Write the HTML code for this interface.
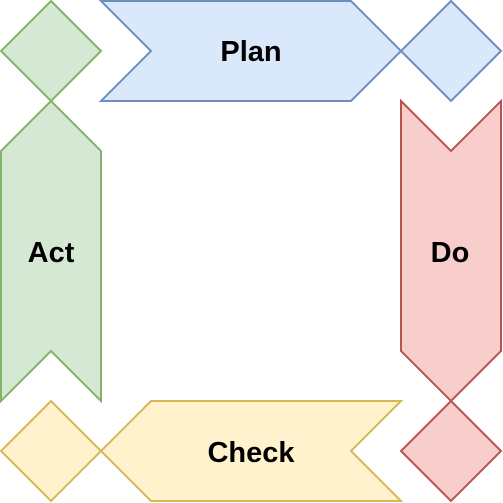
<!DOCTYPE html>
<html><head><style>html,body{margin:0;padding:0;background:#fff;}svg{display:block}text{font-family:"Liberation Sans",Arial,sans-serif;font-weight:bold;font-size:29px;}</style></head>
<body>
<svg width="503" height="503" viewBox="0 0 503 503" xmlns="http://www.w3.org/2000/svg">
<g stroke-width="2">
<polygon points="101,1 351,1 401,51 351,101 101,101 151,51" fill="#dae8fc" stroke="#6c8ebf"/>
<polygon points="451,1 501,51 451,101 401,51" fill="#dae8fc" stroke="#6c8ebf"/>
<polygon points="401,101 451,151 501,101 501,351 451,401 401,351" fill="#f8cecc" stroke="#b85450"/>
<polygon points="451,401 501,451 451,501 401,451" fill="#f8cecc" stroke="#b85450"/>
<polygon points="401,401 351,451 401,501 151,501 101,451 151,401" fill="#fff2cc" stroke="#d6b656"/>
<polygon points="51,401 101,451 51,501 1,451" fill="#fff2cc" stroke="#d6b656"/>
<polygon points="1,401 1,151 51,101 101,151 101,401 51,351" fill="#d5e8d4" stroke="#82b366"/>
<polygon points="51,1 101,51 51,101 1,51" fill="#d5e8d4" stroke="#82b366"/>
</g>
<g text-anchor="middle" fill="#000">
<text x="251" y="61">Plan</text>
<text x="450" y="262">Do</text>
<text x="251" y="462">Check</text>
<text x="51" y="262">Act</text>
</g>
</svg>
</body></html>
